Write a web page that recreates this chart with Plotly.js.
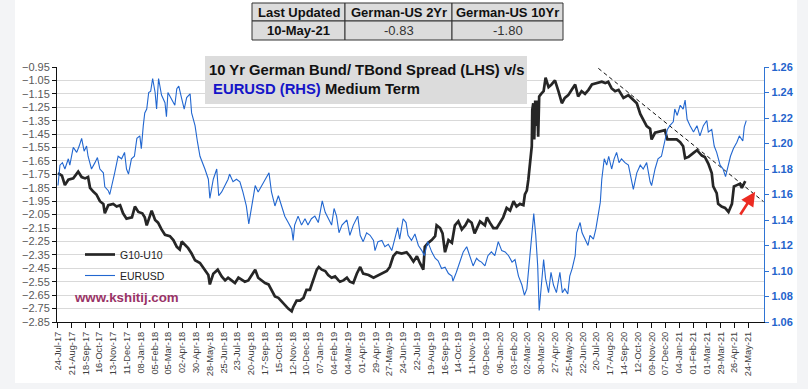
<!DOCTYPE html>
<html>
<head>
<meta charset="utf-8">
<script src="https://cdn.plot.ly/plotly-3.0.1.min.js"></script>
<style>
  html, body { margin: 0; padding: 0; background: #f3f4f6; }
  #chart { width: 808px; height: 389px; }
</style>
</head>
<body>
<div id="chart"></div>
<script>
// ---------------- data ----------------
const tickLabels = ['24-Jul-17','21-Aug-17','18-Sep-17','16-Oct-17','13-Nov-17','11-Dec-17','08-Jan-18','05-Feb-18','05-Mar-18','02-Apr-18','30-Apr-18','28-May-18','25-Jun-18','23-Jul-18','20-Aug-18','17-Sep-18','15-Oct-18','12-Nov-18','10-Dec-18','07-Jan-19','04-Feb-19','04-Mar-19','01-Apr-19','29-Apr-19','27-May-19','24-Jun-19','22-Jul-19','19-Aug-19','16-Sep-19','14-Oct-19','11-Nov-19','09-Dec-19','06-Jan-20','03-Feb-20','02-Mar-20','30-Mar-20','27-Apr-20','25-May-20','22-Jun-20','20-Jul-20','17-Aug-20','14-Sep-20','12-Oct-20','09-Nov-20','07-Dec-20','04-Jan-21','01-Feb-21','01-Mar-21','29-Mar-21','26-Apr-21','24-May-21'];

const spreadDates = ['2017-07-24','2017-08-01','2017-08-07','2017-08-14','2017-08-24','2017-09-03','2017-09-10','2017-09-17','2017-09-23','2017-09-27','2017-10-04','2017-10-10','2017-10-17','2017-10-24','2017-10-27','2017-11-03','2017-11-13','2017-11-20','2017-11-27','2017-12-03','2017-12-10','2017-12-21','2017-12-27','2018-01-03','2018-01-11','2018-01-16','2018-01-20','2018-01-27','2018-01-30','2018-02-06','2018-02-12','2018-02-19','2018-02-26','2018-03-08','2018-03-15','2018-03-22','2018-03-28','2018-04-01','2018-04-08','2018-04-14','2018-04-21','2018-04-28','2018-05-08','2018-05-18','2018-05-25','2018-05-28','2018-06-04','2018-06-13','2018-06-21','2018-06-28','2018-07-04','2018-07-11','2018-07-18','2018-07-25','2018-08-01','2018-08-07','2018-08-14','2018-08-21','2018-08-28','2018-09-03','2018-09-10','2018-09-17','2018-09-24','2018-09-30','2018-10-07','2018-10-14','2018-10-21','2018-10-27','2018-11-03','2018-11-10','2018-11-13','2018-11-20','2018-11-27','2018-12-04','2018-12-10','2018-12-17','2018-12-24','2018-12-31','2019-01-04','2019-01-10','2019-01-17','2019-01-23','2019-01-30','2019-02-06','2019-02-13','2019-02-16','2019-02-23','2019-03-02','2019-03-08','2019-03-15','2019-03-22','2019-03-29','2019-04-04','2019-04-15','2019-04-25','2019-05-01','2019-05-12','2019-05-22','2019-05-28','2019-06-04','2019-06-11','2019-06-21','2019-07-01','2019-07-08','2019-07-15','2019-07-22','2019-07-28','2019-08-04','2019-08-07','2019-08-14','2019-08-21','2019-08-28','2019-08-31','2019-09-07','2019-09-12','2019-09-17','2019-09-24','2019-10-01','2019-10-07','2019-10-14','2019-10-21','2019-10-28','2019-11-03','2019-11-10','2019-11-16','2019-11-22','2019-11-27','2019-12-07','2019-12-11','2019-12-17','2019-12-24','2019-12-31','2020-01-07','2020-01-13','2020-01-20','2020-01-27','2020-02-03','2020-02-09','2020-02-16','2020-02-23','2020-02-26','2020-03-01','2020-03-04','2020-03-07','2020-03-11','2020-03-12','2020-03-14','2020-03-16','2020-03-18','2020-03-20','2020-03-22','2020-03-24','2020-03-26','2020-03-30','2020-04-04','2020-04-08','2020-04-14','2020-04-20','2020-04-27','2020-05-04','2020-05-11','2020-05-17','2020-05-24','2020-05-31','2020-06-07','2020-06-13','2020-06-20','2020-06-27','2020-07-04','2020-07-11','2020-07-21','2020-07-31','2020-08-07','2020-08-13','2020-08-20','2020-08-27','2020-09-03','2020-09-13','2020-09-23','2020-10-03','2020-10-10','2020-10-17','2020-10-23','2020-10-30','2020-11-06','2020-11-09','2020-11-16','2020-11-26','2020-12-06','2020-12-11','2020-12-20','2020-12-30','2021-01-06','2021-01-12','2021-01-16','2021-01-23','2021-02-02','2021-02-09','2021-02-19','2021-02-25','2021-03-04','2021-03-11','2021-03-14','2021-03-18','2021-03-21','2021-03-24','2021-03-31','2021-04-07','2021-04-14','2021-04-21','2021-04-25','2021-05-01','2021-05-07','2021-05-11','2021-05-18'];
const spreadValues = [-1.74,-1.76,-1.83,-1.79,-1.78,-1.73,-1.77,-1.78,-1.77,-1.85,-1.88,-1.90,-1.95,-1.97,-2.04,-1.98,-1.97,-1.99,-1.98,-2.04,-2.08,-2.07,-1.99,-2.03,-2.04,-2.07,-2.13,-2.04,-2.02,-2.09,-2.11,-2.16,-2.20,-2.21,-2.24,-2.29,-2.31,-2.25,-2.28,-2.30,-2.34,-2.39,-2.41,-2.46,-2.50,-2.57,-2.49,-2.46,-2.51,-2.54,-2.52,-2.54,-2.56,-2.52,-2.54,-2.55,-2.54,-2.50,-2.46,-2.52,-2.54,-2.56,-2.57,-2.61,-2.66,-2.67,-2.70,-2.72,-2.75,-2.77,-2.74,-2.69,-2.69,-2.67,-2.61,-2.61,-2.54,-2.46,-2.44,-2.46,-2.47,-2.50,-2.52,-2.51,-2.54,-2.55,-2.54,-2.52,-2.55,-2.56,-2.49,-2.44,-2.49,-2.50,-2.52,-2.51,-2.49,-2.47,-2.44,-2.36,-2.33,-2.34,-2.33,-2.36,-2.40,-2.36,-2.41,-2.46,-2.29,-2.26,-2.24,-2.21,-2.13,-2.15,-2.19,-2.33,-2.24,-2.26,-2.13,-2.10,-2.16,-2.13,-2.09,-2.11,-2.19,-2.14,-2.10,-2.13,-2.07,-2.11,-2.15,-2.15,-2.11,-2.07,-2.00,-2.02,-1.95,-1.99,-1.97,-1.98,-1.90,-1.87,-1.79,-1.67,-1.54,-1.27,-1.22,-1.49,-1.20,-1.39,-1.20,-1.47,-1.17,-1.15,-1.13,-1.03,-1.10,-1.08,-1.05,-1.13,-1.22,-1.18,-1.16,-1.12,-1.08,-1.17,-1.13,-1.15,-1.12,-1.08,-1.07,-1.06,-1.07,-1.06,-1.11,-1.13,-1.12,-1.18,-1.16,-1.20,-1.22,-1.30,-1.34,-1.39,-1.41,-1.49,-1.44,-1.43,-1.42,-1.49,-1.49,-1.49,-1.51,-1.54,-1.63,-1.62,-1.59,-1.57,-1.61,-1.62,-1.67,-1.74,-1.84,-1.87,-1.89,-1.97,-1.99,-2.00,-2.03,-1.97,-1.84,-1.83,-1.82,-1.85,-1.80];

const eurDates = ['2017-07-24','2017-07-26','2017-07-28','2017-08-02','2017-08-07','2017-08-14','2017-08-17','2017-08-24','2017-08-31','2017-09-05','2017-09-10','2017-09-15','2017-09-20','2017-09-23','2017-09-30','2017-10-07','2017-10-12','2017-10-17','2017-10-24','2017-10-27','2017-11-03','2017-11-06','2017-11-11','2017-11-16','2017-11-23','2017-11-30','2017-12-06','2017-12-10','2017-12-14','2017-12-20','2017-12-26','2017-12-31','2018-01-06','2018-01-09','2018-01-13','2018-01-16','2018-01-20','2018-01-24','2018-01-28','2018-02-01','2018-02-06','2018-02-09','2018-02-13','2018-02-19','2018-02-26','2018-03-01','2018-03-04','2018-03-11','2018-03-18','2018-03-22','2018-03-26','2018-04-01','2018-04-06','2018-04-11','2018-04-18','2018-04-21','2018-04-28','2018-05-03','2018-05-08','2018-05-18','2018-05-25','2018-05-28','2018-06-04','2018-06-11','2018-06-15','2018-06-21','2018-06-28','2018-07-04','2018-07-07','2018-07-14','2018-07-21','2018-07-28','2018-08-03','2018-08-10','2018-08-15','2018-08-21','2018-08-28','2018-09-03','2018-09-10','2018-09-18','2018-09-25','2018-09-30','2018-10-07','2018-10-14','2018-10-21','2018-10-27','2018-11-03','2018-11-10','2018-11-13','2018-11-16','2018-11-23','2018-11-30','2018-12-07','2018-12-13','2018-12-20','2018-12-27','2019-01-03','2019-01-11','2019-01-17','2019-01-23','2019-01-30','2019-02-04','2019-02-09','2019-02-14','2019-02-20','2019-03-02','2019-03-08','2019-03-15','2019-03-24','2019-03-29','2019-04-04','2019-04-11','2019-04-18','2019-04-25','2019-04-28','2019-05-04','2019-05-12','2019-05-18','2019-05-25','2019-06-01','2019-06-07','2019-06-13','2019-06-17','2019-06-24','2019-06-30','2019-07-04','2019-07-11','2019-07-18','2019-07-25','2019-08-01','2019-08-06','2019-08-13','2019-08-21','2019-08-28','2019-09-03','2019-09-10','2019-09-17','2019-09-24','2019-10-01','2019-10-03','2019-10-10','2019-10-17','2019-10-24','2019-10-31','2019-11-06','2019-11-13','2019-11-20','2019-11-25','2019-11-30','2019-12-07','2019-12-13','2019-12-20','2019-12-27','2020-01-03','2020-01-10','2020-01-17','2020-01-24','2020-01-31','2020-02-06','2020-02-13','2020-02-20','2020-02-25','2020-03-01','2020-03-05','2020-03-09','2020-03-15','2020-03-19','2020-03-23','2020-03-26','2020-03-30','2020-04-04','2020-04-08','2020-04-14','2020-04-19','2020-04-24','2020-04-30','2020-05-07','2020-05-12','2020-05-17','2020-05-23','2020-05-27','2020-06-01','2020-06-07','2020-06-10','2020-06-17','2020-06-21','2020-06-27','2020-07-03','2020-07-07','2020-07-14','2020-07-19','2020-07-23','2020-07-28','2020-07-31','2020-08-05','2020-08-10','2020-08-14','2020-08-20','2020-08-25','2020-08-30','2020-09-04','2020-09-09','2020-09-16','2020-09-23','2020-09-26','2020-10-03','2020-10-10','2020-10-17','2020-10-23','2020-10-30','2020-11-06','2020-11-09','2020-11-16','2020-11-22','2020-11-29','2020-12-06','2020-12-11','2020-12-16','2020-12-23','2020-12-26','2020-12-31','2021-01-06','2021-01-12','2021-01-16','2021-01-20','2021-01-26','2021-02-02','2021-02-09','2021-02-15','2021-02-22','2021-03-01','2021-03-04','2021-03-11','2021-03-16','2021-03-21','2021-03-28','2021-04-03','2021-04-08','2021-04-14','2021-04-18','2021-04-24','2021-05-01','2021-05-06','2021-05-13','2021-05-16','2021-05-20'];
const eurValues = [1.167,1.176,1.183,1.185,1.180,1.188,1.183,1.197,1.193,1.198,1.204,1.194,1.198,1.190,1.180,1.185,1.189,1.180,1.177,1.166,1.163,1.160,1.168,1.177,1.190,1.188,1.193,1.180,1.176,1.188,1.190,1.204,1.206,1.196,1.214,1.224,1.227,1.240,1.241,1.251,1.240,1.227,1.251,1.238,1.232,1.221,1.240,1.235,1.230,1.243,1.245,1.235,1.227,1.236,1.239,1.224,1.214,1.201,1.190,1.180,1.172,1.157,1.172,1.180,1.159,1.162,1.167,1.172,1.176,1.170,1.172,1.170,1.162,1.151,1.137,1.151,1.167,1.162,1.167,1.172,1.177,1.162,1.151,1.159,1.151,1.143,1.138,1.133,1.124,1.136,1.143,1.136,1.141,1.136,1.141,1.143,1.138,1.155,1.146,1.141,1.136,1.149,1.143,1.130,1.136,1.140,1.128,1.136,1.143,1.128,1.123,1.130,1.128,1.124,1.116,1.123,1.124,1.119,1.121,1.116,1.125,1.134,1.125,1.141,1.138,1.128,1.124,1.129,1.120,1.116,1.112,1.123,1.115,1.110,1.108,1.102,1.103,1.098,1.096,1.092,1.099,1.108,1.115,1.119,1.112,1.104,1.110,1.108,1.107,1.104,1.112,1.115,1.112,1.123,1.116,1.115,1.112,1.107,1.109,1.096,1.089,1.081,1.086,1.104,1.120,1.145,1.128,1.104,1.069,1.086,1.109,1.094,1.083,1.099,1.089,1.083,1.099,1.083,1.086,1.082,1.096,1.102,1.112,1.130,1.138,1.130,1.125,1.120,1.128,1.125,1.133,1.143,1.154,1.172,1.188,1.183,1.190,1.180,1.188,1.193,1.185,1.188,1.185,1.183,1.177,1.164,1.177,1.183,1.180,1.185,1.170,1.167,1.180,1.188,1.190,1.201,1.211,1.214,1.217,1.227,1.222,1.230,1.227,1.234,1.219,1.214,1.209,1.214,1.206,1.214,1.218,1.209,1.211,1.198,1.193,1.183,1.180,1.174,1.183,1.190,1.196,1.201,1.206,1.202,1.213,1.218];

const trendDates = ['2020-07-24','2021-06-24'];
const trendValues = [-0.96,-1.953];
const arrowDates = ['2021-05-06','2021-06-07'];
const arrowValues = [-2.06,-1.879];

const tableHeader = ['Last Updated','German-US 2Yr','German-US 10Yr'];
const tableRow = ['10-May-21','-0.83','-1.80'];

const seriesNames = ['G10-U10','EURUSD'];
const titleLine1 = '10 Yr German Bund/ TBond Spread (LHS) v/s';
const titleBlue = 'EURUSD (RHS)';
const titleRest = 'Medium Term';
const siteText = 'www.kshitij.com';

// ---------------- helpers ----------------
const MON = {Jan:'01',Feb:'02',Mar:'03',Apr:'04',May:'05',Jun:'06',Jul:'07',Aug:'08',Sep:'09',Oct:'10',Nov:'11',Dec:'12'};
function labelToDate(s){ const p = s.split('-'); return '20' + p[2] + '-' + MON[p[1]] + '-' + p[0]; }
const tickVals = tickLabels.map(labelToDate);

// geometry (pixels) -> paper helpers
const W = 808, H = 389, L = 57, R = 764, T = 2, B = 322;
const px = x => (x - L) / (R - L);
const py = y => (B - y) / (B - T);

const FONT = 'Arial, "Liberation Sans", sans-serif';
const BLACK = '#262626';
const BLUE = '#2267d0';

const xRange = ['2017-07-22', '2021-06-25'];
const leftRange = [-2.85, -0.95];
const rightRange = [1.06, 1.26];
const yDomain = [0, py(67)];

const traces = [
  {
    type: 'scatter', mode: 'lines', name: seriesNames[0], legendgroup: 'a',
    x: spreadDates, y: spreadValues, xaxis: 'x', yaxis: 'y',
    line: {color: BLACK, width: 2.7}
  },
  {
    type: 'scatter', mode: 'lines', name: seriesNames[1], legendgroup: 'b',
    x: eurDates, y: eurValues, xaxis: 'x', yaxis: 'y2',
    line: {color: BLUE, width: 1.1}
  },
  {
    type: 'scatter', mode: 'lines', showlegend: false,
    x: trendDates, y: trendValues, xaxis: 'x', yaxis: 'y',
    line: {color: '#111', width: 1, dash: '4px,3px'}
  }
];

// ---- table (grid of cells as shapes, text as annotations) ----
const colEdges = [252, 345, 452, 563];
const rowEdges = [3, 21, 40];
const tableRows = [tableHeader, tableRow];
const tableShapes = [];
const tableAnn = [];
tableRows.forEach((row, r) => {
  row.forEach((txt, c) => {
    tableShapes.push({type: 'rect', xref: 'paper', yref: 'paper', layer: 'above',
      x0: px(colEdges[c]), x1: px(colEdges[c + 1]), y0: py(rowEdges[r + 1]), y1: py(rowEdges[r]),
      fillcolor: '#dcdcdc', line: {color: '#333', width: 1}});
    const bold = (r === 0 || c === 0);
    tableAnn.push({xref: 'paper', yref: 'paper', showarrow: false,
      x: px((colEdges[c] + colEdges[c + 1]) / 2), y: py((rowEdges[r] + rowEdges[r + 1]) / 2 + 0.5),
      xanchor: 'center', yanchor: 'middle',
      text: bold ? '<b>' + txt + '</b>' : txt,
      font: {family: FONT, size: 13, color: bold ? '#111' : '#333'}});
  });
});

const commonX = {
  type: 'date', range: xRange, tickmode: 'array', tickvals: tickVals
};

const layout = {
  width: W, height: H,
  margin: {l: L, r: W - R, t: T, b: H - B, pad: 0},
  paper_bgcolor: '#f3f4f6',
  plot_bgcolor: 'rgba(0,0,0,0)',
  font: {family: FONT, color: '#333'},
  showlegend: true,
  legend: {
    x: px(80), y: py(240), xanchor: 'left', yanchor: 'top',
    bgcolor: 'rgba(0,0,0,0)', borderwidth: 0,
    font: {family: FONT, size: 10.5, color: '#222'},
    tracegroupgap: 2, itemwidth: 30
  },
  xaxis: Object.assign({}, commonX, {
    domain: [0, 1], anchor: 'y',
    ticktext: tickLabels,
    tickangle: -90, tickfont: {family: FONT, size: 9.3, color: '#404040'},
    ticks: 'outside', ticklen: 5, tickcolor: '#111', tickwidth: 1,
    showline: true, linecolor: '#111', linewidth: 1,
    showgrid: false, zeroline: false
  }),
  xaxis2: Object.assign({}, commonX, {
    overlaying: 'x', anchor: 'y', side: 'bottom',
    ticks: 'inside', ticklen: 4, tickcolor: '#111', tickwidth: 1,
    showticklabels: false, showline: false, showgrid: false, zeroline: false
  }),
  yaxis: {
    domain: yDomain, anchor: 'x', range: leftRange,
    tickmode: 'linear', tick0: -2.85, dtick: 0.1, tickformat: '.2f',
    tickfont: {family: FONT, size: 11, color: '#595959'},
    ticks: 'outside', ticklen: 4, tickcolor: '#111',
    showline: true, linecolor: '#111', linewidth: 1,
    showgrid: true, gridcolor: '#d9d9d9', gridwidth: 1, zeroline: false
  },
  yaxis3: {
    overlaying: 'y', anchor: 'x', side: 'left', range: leftRange,
    tickmode: 'linear', tick0: -2.85, dtick: 0.1,
    ticks: 'inside', ticklen: 4, tickcolor: '#111',
    showticklabels: false, showline: false, showgrid: false, zeroline: false
  },
  yaxis2: {
    overlaying: 'y', anchor: 'x', side: 'right', range: rightRange,
    tickmode: 'linear', tick0: 1.06, dtick: 0.02, tickformat: '.2f',
    tickfont: {family: FONT, size: 11, color: '#2463cc', weight: 'bold'},
    ticks: 'outside', ticklen: 4, tickcolor: '#2f74d4',
    showline: true, linecolor: '#2f74d4', linewidth: 1.2,
    showgrid: false, zeroline: false
  },
  yaxis4: {
    overlaying: 'y', anchor: 'x', side: 'right', range: rightRange,
    tickmode: 'linear', tick0: 1.06, dtick: 0.02,
    ticks: 'inside', ticklen: 4, tickcolor: '#2f74d4',
    showticklabels: false, showline: false, showgrid: false, zeroline: false
  },
  shapes: [
    {type: 'rect', xref: 'paper', yref: 'paper', layer: 'below',
     x0: px(15), x1: px(797), y0: py(383), y1: py(0),
     fillcolor: '#ffffff', line: {width: 0}},
    {type: 'rect', xref: 'paper', yref: 'paper', layer: 'above',
     x0: px(205), x1: px(527), y0: py(104), y1: py(56),
     fillcolor: '#dcdcdc', line: {width: 0}}
  ].concat(tableShapes),
  annotations: [
    {xref: 'paper', yref: 'paper', x: px(207), y: py(60), xanchor: 'left', yanchor: 'top',
     align: 'left', showarrow: false,
     text: '<b>' + titleLine1 + '</b><br><b><span style="color:#1414c8">&nbsp;' + titleBlue + '</span> ' + titleRest + '</b>',
     font: {family: FONT, size: 14.8, color: '#111'}},
    {xref: 'paper', yref: 'paper', x: px(72), y: py(297), xanchor: 'left', yanchor: 'middle',
     showarrow: false, text: '<b>' + siteText + '</b>',
     font: {family: FONT, size: 13.3, color: '#993366'}},
    {xref: 'x', yref: 'y', axref: 'x', ayref: 'y',
     x: arrowDates[1], y: arrowValues[1], ax: arrowDates[0], ay: arrowValues[0],
     text: '', showarrow: true, arrowhead: 2, arrowsize: 1.1, arrowwidth: 2.6,
     arrowcolor: '#ec2b22', standoff: 0, startstandoff: 0}
  ].concat(tableAnn),
  hovermode: false
};

Plotly.newPlot('chart', traces, layout, {displayModeBar: false, staticPlot: true});
</script>
</body>
</html>
